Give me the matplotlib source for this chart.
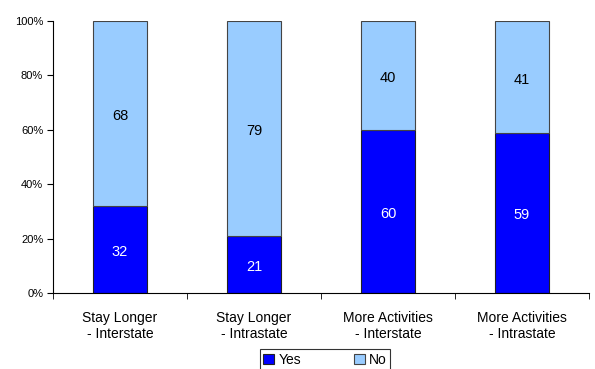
import matplotlib
matplotlib.use("Agg")
import matplotlib.pyplot as plt
from matplotlib.ticker import FuncFormatter, FixedLocator
import numpy as np

plt.rcParams['font.family'] = ['Liberation Sans', 'DejaVu Sans']

categories = ["Stay Longer\n- Interstate", "Stay Longer\n- Intrastate",
              "More Activities\n- Interstate", "More Activities\n- Intrastate"]
yes_vals = [32, 21, 60, 59]
no_vals = [68, 79, 40, 41]

yes_color = "#0000FF"
no_color = "#99CCFF"

fig = plt.figure(figsize=(5.95, 3.69), dpi=100)
ax = fig.add_axes([0.089, 0.206, 0.901, 0.737])

x = np.arange(len(categories))
bw = 0.4
ax.bar(x, yes_vals, bw, color=yes_color, edgecolor="#222222", linewidth=0.8, label="Yes")
ax.bar(x, no_vals, bw, bottom=yes_vals, color=no_color, edgecolor="#444444", linewidth=0.8, label="No")

for i in range(len(x)):
    ax.text(x[i], yes_vals[i] / 2 - 1, str(yes_vals[i]), ha="center", va="center",
            color="white", fontsize=10.5)
    ax.text(x[i], yes_vals[i] + no_vals[i] / 2 - 1, str(no_vals[i]), ha="center",
            va="center", color="black", fontsize=10.5)

ax.set_xlim(-0.5, len(categories) - 0.5)
ax.set_ylim(0, 100)
ax.set_yticks(range(0, 101, 20))
ax.yaxis.set_major_formatter(FuncFormatter(lambda v, p: f"{int(v)}%"))
ax.tick_params(axis="y", labelsize=8, direction="out", length=4, pad=3)

ax.set_xticks(x)
ax.set_xticklabels(categories, fontsize=10)
ax.tick_params(axis="x", length=0, pad=13)
ax.xaxis.set_minor_locator(FixedLocator(np.arange(-0.5, len(categories), 1.0)))
ax.tick_params(axis="x", which="minor", length=4, direction="out")

for s in ["top", "right"]:
    ax.spines[s].set_visible(False)
for s in ["left", "bottom"]:
    ax.spines[s].set_color("black")
    ax.spines[s].set_linewidth(0.8)

leg = fig.legend(loc="upper center", bbox_to_anchor=(0.546, 0.053), ncol=2,
                 frameon=True, fancybox=False, edgecolor="black", fontsize=10,
                 handlelength=0.8, handleheight=0.8, handletextpad=0.3,
                 columnspacing=3.8, borderpad=0.25, borderaxespad=0)
leg.get_frame().set_linewidth(0.8)

fig.savefig("out.png", dpi=100)
